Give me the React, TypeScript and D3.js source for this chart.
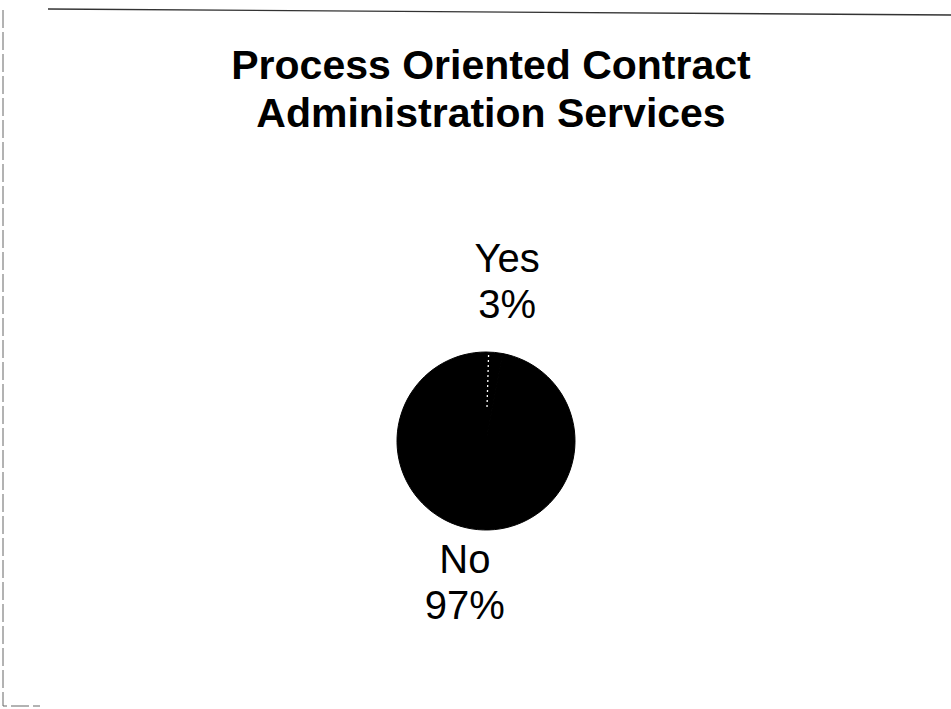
import { useEffect, useRef } from 'react'
import * as d3 from 'd3'

const categories = ['Yes', 'No']
const values = [3, 97]
const titleLines = ['Process Oriented Contract', 'Administration Services']

const width = 951
const height = 709

export default function App() {
  const svgRef = useRef<SVGSVGElement>(null)

  useEffect(() => {
    document.body.style.margin = '0'
    if (!svgRef.current) return
    const svg = d3.select(svgRef.current)
    svg.selectAll('*').remove()

    svg.append('rect').attr('width', width).attr('height', height).attr('fill', '#fff')

    // scanned page border
    svg.append('path')
      .attr('d', `M48,9 L951,15`)
      .attr('stroke', '#333').attr('stroke-width', 1.3).attr('fill', 'none')
    svg.append('path')
      .attr('d', `M3,10 L3,706 L40,706`)
      .attr('stroke', '#666').attr('stroke-width', 1).attr('fill', 'none')
      .attr('stroke-dasharray', '18 4')

    const title = svg.append('text')
      .attr('text-anchor', 'middle')
      .style('font-family', 'Liberation Sans, Arial, sans-serif')
      .style('font-weight', 'bold')
      .style('font-size', '41px')
      .style('fill', '#000')
    titleLines.forEach((t, i) => {
      title.append('tspan').attr('x', 491).attr('y', 79 + i * 48).text(t)
    })

    const cx = 486
    const cy = 441
    const radius = 89

    const data = categories.map((c, i) => ({ name: c, value: values[i] }))
    const pie = d3.pie<{ name: string; value: number }>().sort(null).value(d => d.value)
    const arcs = pie(data)

    const arc = d3.arc<d3.PieArcDatum<{ name: string; value: number }>>()
      .innerRadius(0).outerRadius(radius)

    const g = svg.append('g').attr('transform', `translate(${cx},${cy})`)

    g.selectAll('path.slice')
      .data(arcs)
      .enter().append('path')
      .attr('class', 'slice')
      .attr('d', arc)
      .attr('fill', '#000')
      .attr('stroke', '#000')
      .attr('stroke-width', 1)

    // faint dotted edge of the small slice
    const a0 = arcs[0].startAngle + 0.03
    g.append('line')
      .attr('x1', Math.sin(a0) * (radius - 3)).attr('y1', -Math.cos(a0) * (radius - 3))
      .attr('x2', Math.sin(a0) * radius * 0.35).attr('y2', -Math.cos(a0) * radius * 0.35)
      .attr('stroke', '#fff').attr('stroke-width', 1.3)
      .attr('stroke-dasharray', '2 3')

    const total = d3.sum(values)
    arcs.forEach(d => {
      const mid = (d.startAngle + d.endAngle) / 2
      const top = Math.cos(mid) > 0
      const x = Math.sin(mid) * 225
      const y1 = top ? -radius - 80 : radius + 43
      const t = g.append('text')
        .attr('text-anchor', 'middle')
        .style('font-family', 'Liberation Sans, Arial, sans-serif')
        .style('font-size', '40px')
        .style('fill', '#000')
      t.append('tspan').attr('x', x).attr('y', y1).text(d.data.name)
      t.append('tspan').attr('x', x).attr('y', y1 + 46)
        .text(`${Math.round((d.data.value / total) * 100)}%`)
    })
  }, [])

  return <svg ref={svgRef} width={width} height={height} style={{ display: 'block' }} />
}
